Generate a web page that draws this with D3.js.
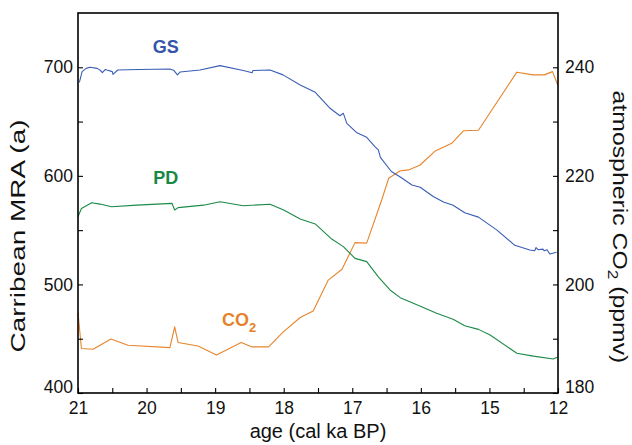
<!DOCTYPE html>
<html>
<head>
<meta charset="utf-8">
<script src="https://cdn.jsdelivr.net/npm/d3@7"></script>
<style>
  body { margin: 0; background: #fff; }
  svg { display: block; font-family: "Liberation Sans", Arial, Helvetica, sans-serif; }
</style>
</head>
<body>
<div id="chart"></div>
<script>
// x axis ticks (last label reads 12 in the original figure)
const ageTicks = [21, 20, 19, 18, 17, 16, 15, 14]
const ageTickLabels = ["21", "20", "19", "18", "17", "16", "15", "12"]
const ageMinorTicks = [20.5, 19.5, 18.5, 17.5, 16.5, 15.5, 14.5]
const mraTicks = [400, 500, 600, 700]
const mraMinorTicks = [450, 550, 650]
const co2Ticks = [180, 200, 220, 240]
const co2MinorTicks = [190, 210, 230]

// GS record (Caribbean MRA, years)
const gsAge = [20.98, 20.94, 20.88, 20.825, 20.72, 20.67, 20.645, 20.6, 20.58, 20.5, 20.49, 20.42, 20.1, 19.66, 19.6, 19.55, 19.51, 19.22, 18.93, 18.59, 18.46, 18.45, 18.2, 18.01, 17.76, 17.54, 17.32, 17.18, 17.13, 17.08, 16.94, 16.79, 16.67, 16.62, 16.59, 16.43, 16.3, 16.13, 16.01, 15.82, 15.67, 15.53, 15.36, 15.16, 14.89, 14.63, 14.41, 14.34, 14.32, 14.29, 14.22, 14.2, 14.16, 14.12, 14.02]
const gsMRA = [686, 696, 699, 700, 699, 697, 695, 698, 697.5, 696, 693.5, 697.5, 698, 698.4, 697, 693, 695.7, 697.5, 701.5, 697, 695, 697, 697.5, 693, 683.7, 677, 662, 655.4, 657.6, 648.4, 640, 635.5, 627, 624, 617, 604, 599, 591.6, 589.5, 581, 576, 573, 566, 562, 550, 536, 531.7, 531, 534, 532, 532.5, 531, 532, 528, 529.6]

// PD record (Caribbean MRA, years)
const pdAge = [21.0, 20.95, 20.8, 20.68, 20.51, 20.14, 19.63, 19.59, 19.54, 19.17, 18.93, 18.59, 18.2, 18.0, 17.76, 17.54, 17.3, 17.13, 16.96, 16.79, 16.62, 16.45, 16.3, 15.99, 15.77, 15.53, 15.36, 15.16, 14.99, 14.6, 14.36, 14.07, 14.01]
const pdMRA = [562.4, 570, 575.3, 574, 571.6, 573, 574.7, 568.5, 570.7, 573, 576.2, 572.5, 573.8, 568.5, 560.3, 555.7, 541.8, 534.8, 524, 521, 507, 494.9, 487.8, 479.5, 473.4, 467.9, 462, 458.6, 453.4, 436.6, 434, 431.3, 432.9]

// atmospheric CO2 (ppmv)
const co2Age = [21.0, 20.95, 20.78, 20.52, 20.27, 19.66, 19.59, 19.54, 19.25, 18.98, 18.62, 18.47, 18.22, 18.01, 17.76, 17.57, 17.35, 17.15, 16.96, 16.79, 16.57, 16.47, 16.3, 16.18, 16.01, 15.79, 15.55, 15.38, 15.16, 14.6, 14.36, 14.2, 14.08, 14.0]
const co2Ppmv = [194.8, 188.2, 188.05, 189.95, 188.8, 188.35, 192.2, 189.3, 188.65, 187, 189.3, 188.5, 188.5, 191.2, 193.9, 195.1, 200.8, 202.8, 207.7, 207.6, 215.6, 219.55, 220.95, 221.1, 222, 224.6, 226, 228.3, 228.4, 239.1, 238.6, 238.6, 239.2, 236.6]

const W = 632, H = 445
const margin = { top: 13, right: 74, bottom: 52, left: 78 }
const width = W - margin.left - margin.right
const height = H - margin.top - margin.bottom

const colors = { gs: "#3a5db5", pd: "#1b8a48", co2: "#e8852c" }

const svg = d3.select("#chart").append("svg")
  .attr("width", W)
  .attr("height", H)

const g = svg.append("g")
  .attr("transform", "translate(" + margin.left + "," + margin.top + ")")

const x = d3.scaleLinear().domain([21, 14]).range([0, width])
const yL = d3.scaleLinear().domain([400, 750]).range([height, 0])
const yR = d3.scaleLinear().domain([180, 250]).range([height, 0])

function drawLine(ages, vals, yScale, color) {
  const pts = ages.map((a, i) => [a, vals[i]])
  g.append("path")
    .datum(pts)
    .attr("fill", "none")
    .attr("stroke", color)
    .attr("stroke-width", 1.1)
    .attr("stroke-linejoin", "round")
    .attr("d", d3.line().x(d => x(d[0])).y(d => yScale(d[1])))
}

drawLine(co2Age, co2Ppmv, yR, colors.co2)
drawLine(pdAge, pdMRA, yL, colors.pd)
drawLine(gsAge, gsMRA, yL, colors.gs)

// axes, ticks pointing inward
const tickFont = 17.5

const bottom = g.append("g")
  .attr("transform", "translate(0," + height + ")")
  .call(d3.axisBottom(x)
    .tickValues(ageTicks.concat(ageMinorTicks))
    .tickSize(-5)
    .tickPadding(9)
    .tickFormat(d => {
      const i = ageTicks.indexOf(d)
      return i < 0 ? "" : ageTickLabels[i]
    }))

const left = g.append("g")
  .call(d3.axisLeft(yL)
    .tickValues(mraTicks.concat(mraMinorTicks))
    .tickSize(-5)
    .tickPadding(5)
    .tickFormat(d => mraTicks.indexOf(d) < 0 ? "" : d))

const right = g.append("g")
  .attr("transform", "translate(" + width + ",0)")
  .call(d3.axisRight(yR)
    .tickValues(co2Ticks.concat(co2MinorTicks))
    .tickSize(-5)
    .tickPadding(7)
    .tickFormat(d => co2Ticks.indexOf(d) < 0 ? "" : d))

;[bottom, left, right].forEach(ax => {
  ax.select(".domain").remove()
  ax.selectAll("line").attr("stroke", "#000").attr("stroke-width", 1.1)
  ax.selectAll("text")
    .attr("fill", "#111")
    .style("font-size", tickFont + "px")
    .style("font-family", "'Liberation Sans', Arial, sans-serif")
})

// the lowest y labels sit a little above their tick
left.selectAll(".tick").filter(d => d === 400).select("text").attr("dy", "-0.05em")
right.selectAll(".tick").filter(d => d === 180).select("text").attr("dy", "-0.05em")

// box
g.append("rect")
  .attr("width", width)
  .attr("height", height)
  .attr("fill", "none")
  .attr("stroke", "#000")
  .attr("stroke-width", 1.6)

// axis titles
g.append("text")
  .attr("x", width / 2)
  .attr("y", height + 45)
  .attr("text-anchor", "middle")
  .style("font-size", "20px")
  .attr("fill", "#111")
  .text("age (cal ka BP)")

function stretchTo(sel, target) {
  const len = sel.node().getComputedTextLength()
  return len > 0 ? target / len : 1
}

const yLab = svg.append("text")
  .attr("text-anchor", "middle")
  .style("font-size", "20px")
  .attr("fill", "#111")
  .text("Carribean MRA (a)")
const sL = stretchTo(yLab, 233)
yLab.attr("transform", "translate(25,236) rotate(-90) scale(" + sL + ",1)")

const yRLab = svg.append("text")
  .attr("text-anchor", "middle")
  .style("font-size", "20px")
  .attr("fill", "#111")
yRLab.append("tspan").text("atmospheric CO")
yRLab.append("tspan").text("2").style("font-size", "14px").attr("dy", 5)
yRLab.append("tspan").text(" (ppmv)").attr("dy", -5)
const sR = stretchTo(yRLab, 273)
yRLab.attr("transform", "translate(613,227) rotate(90) scale(" + sR + ",1)")

// series labels
g.append("text")
  .attr("x", x(19.72))
  .attr("y", yL(697) - 18)
  .attr("text-anchor", "middle")
  .style("font-size", "18px")
  .style("font-weight", 700)
  .attr("fill", "#3355aa")
  .text("GS")

g.append("text")
  .attr("x", x(19.72))
  .attr("y", yL(600) + 8)
  .attr("text-anchor", "middle")
  .style("font-size", "18px")
  .style("font-weight", 700)
  .attr("fill", "#168a45")
  .text("PD")

const co2Lab = g.append("text")
  .attr("x", x(18.9))
  .attr("y", yR(187.5) - 26)
  .style("font-size", "18px")
  .style("font-weight", 700)
  .attr("fill", "#e4832c")
co2Lab.append("tspan").text("CO")
co2Lab.append("tspan").text("2").style("font-size", "13px").attr("dy", 6)
</script>
</body>
</html>
